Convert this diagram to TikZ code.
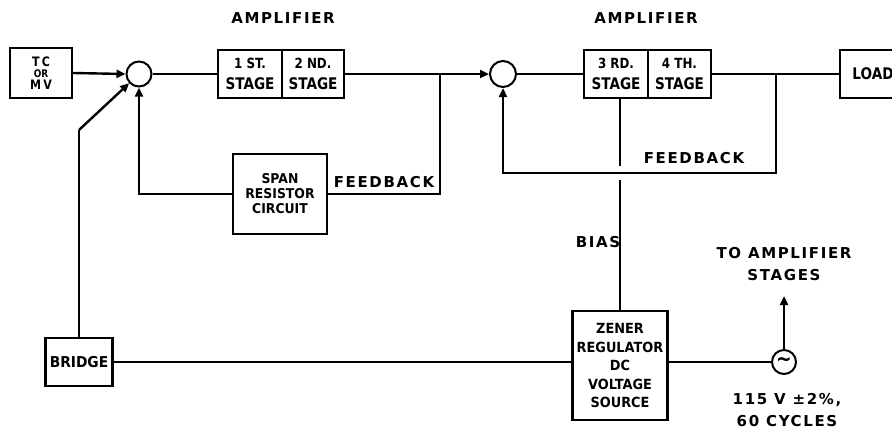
\documentclass[tikz,border=0pt]{standalone}
\usepackage{fontspec}
\setmainfont{DejaVu Sans}
\newfontfamily\bfont{DejaVu Sans}[FakeStretch=0.85]
\newfontfamily\zfont{DejaVu Sans}[FakeStretch=0.92]
\newfontfamily\hfont{DejaVu Sans}[LetterSpace=11]
\usetikzlibrary{arrows.meta}
\tikzset{
  ln/.style={line width=2.4pt},
  arr/.style={line width=2.4pt, -{Triangle[length=9pt,width=8pt]}},
  blk/.style={draw, line width=2.4pt, inner sep=0pt, align=center,
    font=\bfont\bfseries\fontsize{16}{16}\selectfont},
  sumc/.style={draw, circle, line width=2pt, inner sep=0pt},
  lab/.style={inner sep=0pt, align=center,
    font=\hfont\bfseries\fontsize{15}{22}\selectfont},
}
\begin{document}
\begin{tikzpicture}[x=1pt,y=-1pt]
\path[use as bounding box, clip] (0,0) rectangle (892,434);
% blocks
\node[blk, minimum width=62pt, minimum height=50pt,
  font=\bfont\bfseries\fontsize{13}{11.5}\selectfont] (tc) at (41,73)
  {T\,C\\{\fontsize{10.5}{11.5}\selectfont OR}\\M\,V};
\node[sumc, minimum size=25pt] (sum1) at (139,74) {};
\node[blk, minimum width=64pt, minimum height=48pt,
  font=\bfont\bfseries\fontsize{16}{21}\selectfont] (st1) at (250,74)
  {{\fontsize{14}{21}\selectfont 1 ST.}\\STAGE};
\node[blk, minimum width=62pt, minimum height=48pt,
  font=\bfont\bfseries\fontsize{16}{21}\selectfont] (st2) at (313,74)
  {{\fontsize{14}{21}\selectfont 2 ND.}\\STAGE};
\node[blk, minimum width=94pt, minimum height=80pt,
  font=\zfont\bfseries\fontsize{13.5}{15}\selectfont] (span) at (280,194)
  {SPAN\\RESISTOR\\CIRCUIT};
\node[sumc, minimum size=26pt] (sum2) at (503,74) {};
\node[blk, minimum width=64pt, minimum height=48pt,
  font=\bfont\bfseries\fontsize{16}{21}\selectfont] (st3) at (616,74)
  {{\fontsize{14}{21}\selectfont 3 RD.}\\STAGE};
\node[blk, minimum width=63pt, minimum height=48pt,
  font=\bfont\bfseries\fontsize{16}{21}\selectfont] (st4) at (679.5,74)
  {{\fontsize{14}{21}\selectfont 4 TH.}\\STAGE};
\node[blk, minimum width=66pt, minimum height=48pt] (load) at (873,74) {LOAD};
\node[blk, minimum width=67pt, minimum height=48pt,
  font=\zfont\bfseries\fontsize{15}{16}\selectfont] (bridge) at (79,362) {BRIDGE};
\node[blk, minimum width=95pt, minimum height=109pt,
  font=\zfont\bfseries\fontsize{14}{18.5}\selectfont] (zener) at (620,365.5)
  {ZENER\\REGULATOR\\DC\\VOLTAGE\\SOURCE};
\node[sumc, minimum size=24pt, font=\bfont\bfseries\fontsize{22}{22}\selectfont] (ac) at (784,362) {\symbol{"223C}};
% coordinates
\coordinate (fb1) at (440,74);
\coordinate (fb2) at (776,74);
\coordinate (fb2b) at (776,173);
\coordinate (g1) at (620,166);
\coordinate (g2) at (620,180);
\coordinate (bc) at (79,130);
\coordinate (toamp) at (784,296);
% connectors
\draw[arr] (tc.east) -- (sum1.west);
\draw[ln] (sum1.east) -- (st1.west);
\draw[ln] (st2.east) -- (fb1);
\draw[arr] (fb1) -- (sum2.west);
\draw[ln] (fb1) |- (span.east);
\draw[arr] (span.west) -| (sum1.south);
\draw[ln] (sum2.east) -- (st3.west);
\draw[ln] (st4.east) -- (load.west);
\draw[arr] (fb2) -- (fb2b) -| (sum2.south);
\draw[ln] (zener.north |- st3.south) -- (g1);
\draw[ln] (g2) -- (zener.north);
\draw[ln] (bridge.north) -- (bc);
\draw[arr] (bc) -- (sum1);
\draw[ln] (bridge.east) -- (bridge.east -| zener.west);
\draw[ln] (zener.east |- ac.west) -- (ac.west);
\draw[arr] (ac.north) -- (toamp);
% labels
\node[lab] (amp1) at (283,18) {AMPLIFIER};
\node[lab] (amp2) at (646,18) {AMPLIFIER};
\node[lab] (fbl1) at (384,182) {FEEDBACK};
\node[lab] (fbl2) at (694,158) {FEEDBACK};
\node[lab] (bias) at (598,242) {BIAS};
\node[lab] (toamps) at (784,264) {TO AMPLIFIER\\STAGES};
\node[lab] (volt) at (787,410) {115 V ±2\%,\\60 CYCLES};
\end{tikzpicture}
\end{document}
